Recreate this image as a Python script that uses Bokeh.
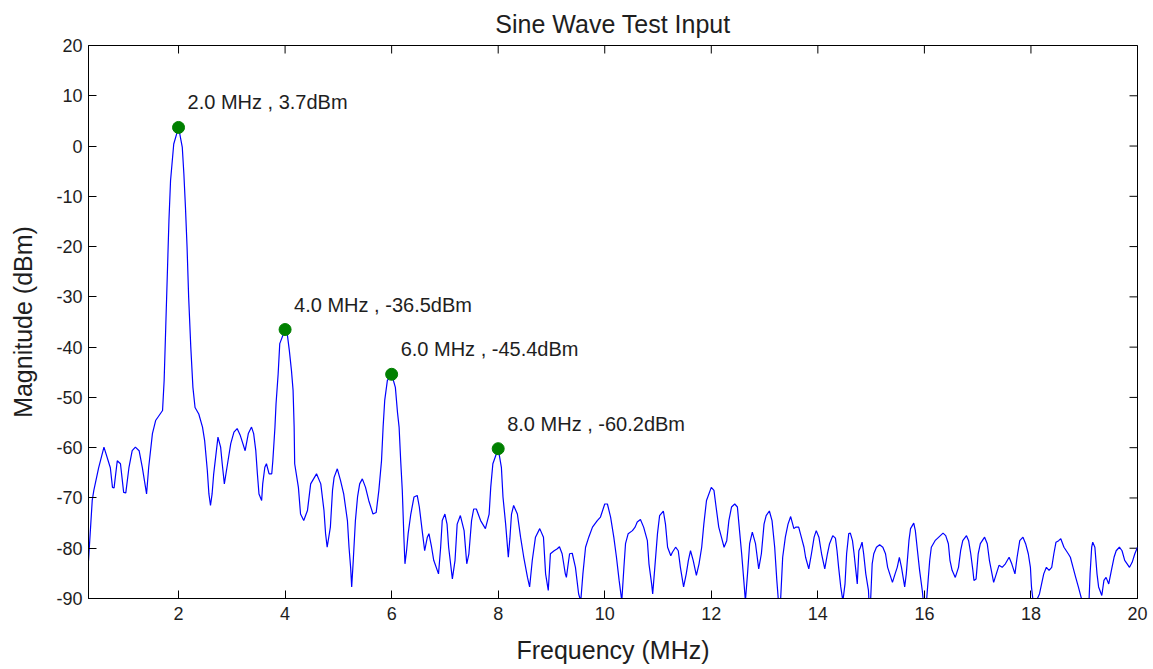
from bokeh.plotting import figure
from bokeh.models import Range1d, FixedTicker, ColumnDataSource
from bokeh.embed import file_html
from bokeh.resources import INLINE
from bokeh.core.properties import value
import math

# Spectrum of the sine-wave test input (frequency in MHz, magnitude in dBm)
freq_mhz = [
    0.31, 0.38, 0.41, 0.50, 0.60, 0.72, 0.76, 0.79, 0.85, 0.91, 0.97, 1.01, 1.07, 1.13, 1.19, 1.26,
    1.32, 1.40, 1.44, 1.51, 1.57, 1.70, 1.73, 1.76, 1.79, 1.82, 1.85, 1.91, 2.00, 2.07, 2.10, 2.13,
    2.16, 2.19, 2.23, 2.27, 2.31, 2.38, 2.45, 2.49, 2.54, 2.57, 2.60, 2.63, 2.66, 2.74, 2.79, 2.82,
    2.86, 2.92, 2.98, 3.04, 3.10, 3.16, 3.25, 3.31, 3.37, 3.41, 3.45, 3.48, 3.51, 3.56, 3.58, 3.62,
    3.65, 3.70, 3.75, 3.77, 3.81, 3.83, 3.87, 3.90, 4.00, 4.04, 4.08, 4.12, 4.15, 4.17, 4.18, 4.25,
    4.29, 4.35, 4.42, 4.48, 4.59, 4.67, 4.73, 4.76, 4.79, 4.85, 4.89, 4.92, 4.98, 5.04, 5.10, 5.17,
    5.20, 5.23, 5.25, 5.28, 5.32, 5.36, 5.40, 5.45, 5.51, 5.57, 5.65, 5.71, 5.76, 5.81, 5.84, 5.87,
    5.92, 6.00, 6.07, 6.11, 6.14, 6.17, 6.20, 6.23, 6.25, 6.28, 6.31, 6.36, 6.42, 6.48, 6.52, 6.58,
    6.62, 6.67, 6.70, 6.75, 6.79, 6.88, 6.92, 6.95, 7.00, 7.04, 7.07, 7.14, 7.19, 7.23, 7.29, 7.36,
    7.41, 7.45, 7.50, 7.54, 7.59, 7.67, 7.76, 7.83, 7.86, 7.90, 8.00, 8.06, 8.09, 8.14, 8.19, 8.22,
    8.25, 8.29, 8.36, 8.42, 8.48, 8.55, 8.59, 8.64, 8.70, 8.78, 8.85, 8.89, 8.94, 8.98, 9.05, 9.11,
    9.15, 9.20, 9.26, 9.28, 9.34, 9.39, 9.45, 9.51, 9.55, 9.59, 9.64, 9.70, 9.77, 9.86, 9.92, 10.00,
    10.05, 10.11, 10.17, 10.22, 10.27, 10.32, 10.36, 10.39, 10.44, 10.52, 10.57, 10.61, 10.67, 10.73,
    10.80, 10.83, 10.88, 10.90, 10.94, 10.99, 11.03, 11.10, 11.14, 11.18, 11.24, 11.27, 11.33, 11.38,
    11.42, 11.48, 11.53, 11.57, 11.61, 11.66, 11.72, 11.77, 11.82, 11.86, 11.91, 12.00, 12.05, 12.09,
    12.14, 12.19, 12.24, 12.29, 12.33, 12.38, 12.44, 12.49, 12.53, 12.57, 12.61, 12.64, 12.68, 12.72,
    12.77, 12.83, 12.89, 12.94, 12.99, 13.03, 13.09, 13.14, 13.19, 13.23, 13.26, 13.30, 13.34, 13.39,
    13.44, 13.49, 13.55, 13.59, 13.64, 13.69, 13.74, 13.77, 13.83, 13.88, 13.93, 13.97, 14.02, 14.07,
    14.13, 14.18, 14.22, 14.28, 14.33, 14.36, 14.39, 14.43, 14.47, 14.51, 14.54, 14.58, 14.61, 14.65,
    14.68, 14.72, 14.74, 14.77, 14.80, 14.83, 14.86, 14.90, 14.95, 14.96, 14.99, 15.02, 15.05, 15.10,
    15.16, 15.22, 15.27, 15.31, 15.40, 15.45, 15.49, 15.53, 15.57, 15.63, 15.66, 15.71, 15.74, 15.80,
    15.83, 15.87, 15.91, 15.96, 15.98, 16.04, 16.07, 16.10, 16.13, 16.20, 16.27, 16.35, 16.40, 16.45,
    16.48, 16.52, 16.58, 16.64, 16.68, 16.72, 16.79, 16.83, 16.87, 16.91, 16.93, 16.97, 17.01, 17.05,
    17.13, 17.18, 17.22, 17.30, 17.35, 17.40, 17.46, 17.52, 17.59, 17.64, 17.70, 17.74, 17.79, 17.85,
    17.90, 17.95, 17.99, 18.01, 18.04, 18.10, 18.16, 18.20, 18.24, 18.29, 18.34, 18.39, 18.43, 18.47,
    18.52, 18.56, 18.62, 18.70, 18.74, 18.79, 18.84, 18.89, 18.96, 19.04, 19.09, 19.11, 19.14, 19.16,
    19.20, 19.24, 19.27, 19.33, 19.37, 19.41, 19.46, 19.51, 19.56, 19.60, 19.66, 19.71, 19.76, 19.85,
    19.90, 19.95, 20.00,
]
mag_dbm = [
    -82.5, -70.5, -68.5, -64.0, -59.9, -64.0, -67.9, -68.0, -62.6, -63.2, -68.9, -69.0, -63.9, -60.6, -59.9, -60.6,
    -63.9, -69.2, -63.9, -57.2, -54.6, -52.6, -46.6, -36.0, -25.4, -14.8, -6.9, 0.4, 3.7, -0.2, -5.5, -12.2,
    -20.1, -30.1, -40.0, -48.0, -52.0, -53.3, -55.9, -58.6, -64.5, -69.2, -71.5, -69.2, -65.2, -57.9, -59.9, -63.2,
    -67.2, -63.2, -59.2, -56.9, -56.2, -57.6, -60.6, -57.2, -55.9, -57.2, -60.6, -65.2, -69.2, -70.5, -67.2, -63.9,
    -63.2, -65.2, -65.2, -62.6, -55.9, -51.3, -45.3, -39.3, -36.5, -37.3, -40.7, -44.7, -48.6, -55.9, -63.2, -67.9,
    -73.2, -74.5, -72.5, -67.2, -65.2, -67.2, -72.5, -77.1, -79.8, -75.8, -68.5, -65.9, -64.2, -66.5, -69.2, -74.5,
    -79.8, -83.8, -87.7, -82.4, -74.5, -69.8, -67.2, -66.2, -67.9, -70.5, -73.2, -72.9, -68.5, -62.6, -55.9, -50.6,
    -46.6, -45.4, -48.0, -53.0, -55.9, -62.6, -68.5, -77.8, -83.1, -80.5, -77.1, -73.2, -69.8, -69.5, -71.8, -77.1,
    -80.5, -77.8, -77.1, -79.8, -82.4, -85.1, -79.8, -74.5, -73.2, -75.2, -79.8, -86.1, -82.4, -75.2, -73.5, -76.5,
    -83.1, -81.1, -74.5, -72.2, -72.2, -74.5, -76.1, -73.2, -67.9, -63.2, -60.2, -63.9, -69.8, -75.2, -81.8, -78.0,
    -73.2, -71.5, -73.2, -77.8, -81.8, -85.8, -87.7, -82.4, -77.8, -76.1, -77.8, -85.1, -88.4, -81.1, -80.5, -80.1,
    -79.7, -81.1, -85.1, -85.8, -81.1, -81.0, -83.8, -89.1, -90.5, -85.1, -79.8, -77.8, -75.8, -74.5, -73.8, -71.2,
    -71.2, -73.8, -77.8, -81.8, -86.4, -90.5, -83.8, -79.1, -77.1, -76.5, -75.8, -74.8, -74.3, -75.8,
    -78.5, -83.1, -87.1, -89.1, -83.8, -77.1, -73.5, -72.6, -75.2, -79.8, -81.5, -80.8, -79.8, -80.5,
    -83.8, -87.7, -85.1, -82.4, -80.5, -82.4, -85.4, -83.1, -79.8, -75.2, -70.5, -67.9, -68.5, -71.8,
    -75.8, -77.8, -79.8, -78.5, -74.5, -71.8, -71.2, -71.8, -76.5, -81.1, -86.4, -90.5, -85.1, -79.1,
    -76.8, -79.1, -84.1, -81.1, -75.2, -73.5, -72.6, -74.5, -79.8, -86.4, -90.5, -90.5, -81.8, -77.8,
    -75.2, -73.7, -76.1, -75.8, -75.8, -77.8, -79.8, -81.8, -84.1, -81.1, -77.8, -76.5, -77.8, -81.1,
    -84.1, -81.1, -79.1, -77.5, -78.0, -80.5, -83.8, -87.7, -90.5, -87.1, -81.1, -77.1, -77.0, -78.5,
    -81.1, -85.1, -87.1, -80.5, -79.8, -78.8, -81.1, -85.1, -88.4, -90.5, -90.5, -83.1, -81.1, -79.8,
    -79.3, -79.8, -81.1, -83.8, -86.8, -85.1, -83.8, -81.8, -83.8, -87.7, -85.1, -78.5, -76.1, -75.0,
    -76.5, -80.5, -84.4, -88.4, -90.5, -90.5, -86.4, -82.4, -79.8, -78.5, -77.8, -77.0, -77.5, -79.1,
    -82.4, -84.4, -85.8, -83.8, -80.5, -78.5, -77.5, -78.5, -81.1, -84.4, -86.4, -86.1, -81.1, -79.1,
    -77.8, -79.1, -82.4, -86.8, -85.1, -83.4, -83.8, -83.1, -81.8, -83.1, -85.1, -81.8, -78.5, -77.8,
    -79.1, -81.1, -83.8, -87.7, -90.5, -90.5, -89.1, -87.1, -85.1, -83.8, -84.4, -83.8, -81.1, -78.8,
    -78.5, -78.1, -79.8, -81.1, -81.8, -83.8, -85.8, -87.7, -90.5, -90.5, -90.5, -85.1, -79.8, -78.8,
    -79.8, -85.1, -87.7, -89.4, -86.4, -85.8, -87.1, -84.4, -81.8, -80.5, -79.8, -80.5, -82.4, -83.8,
    -82.8, -81.1, -79.8,
]

# Marked harmonics
peak_freq_mhz = [2.0, 4.0, 6.0, 8.0]
peak_mag_dbm = [3.7, -36.5, -45.4, -60.2]

x_ticks = [2, 4, 6, 8, 10, 12, 14, 16, 18, 20]
y_ticks = [-90, -80, -70, -60, -50, -40, -30, -20, -10, 0, 10, 20]

FONT = "Liberation Sans"
INK = "#1e1e1e"

p = figure(
    width=1153, height=669,
    output_backend="svg", toolbar_location=None,
    x_range=Range1d(0.31, 20), y_range=Range1d(-90, 20),
    min_border_left=88, min_border_right=16, min_border_top=45, min_border_bottom=71,
    x_axis_label="Frequency (MHz)", y_axis_label="Magnitude (dBm)",
)
p.background_fill_color = "white"
p.border_fill_color = "white"
p.outline_line_color = "black"
p.outline_line_width = 1
p.xgrid.visible = False
p.ygrid.visible = False

p.title.text = "Sine Wave Test Input"
p.title.align = "center"
p.title.text_font = FONT
p.title.text_font_size = "25px"
p.title.text_font_style = "normal"
p.title.text_color = INK
p.title.standoff = 15

for ax, ticks in ((p.xaxis[0], x_ticks), (p.yaxis[0], y_ticks)):
    ax.ticker = FixedTicker(ticks=ticks)
    ax.major_label_overrides = {t: str(t) for t in ticks}
    ax.major_tick_in = 8
    ax.major_tick_out = 0
    ax.minor_tick_line_color = None
    ax.axis_line_color = "black"
    ax.major_tick_line_color = "black"
    ax.major_label_text_font = FONT
    ax.major_label_text_font_size = "18px"
    ax.major_label_text_color = INK
    ax.axis_label_text_font = FONT
    ax.axis_label_text_font_size = "25px"
    ax.axis_label_text_font_style = "normal"
    ax.axis_label_text_color = INK

p.xaxis[0].major_label_standoff = 8
p.xaxis[0].axis_label_standoff = 13
p.yaxis[0].major_label_standoff = 6
p.yaxis[0].axis_label_standoff = 16

# Inward box ticks along the top and right edges (clipped to the frame)
p.scatter(x=x_ticks, y=[p.y_range.end] * len(x_ticks), marker="dash", angle=math.pi / 2,
          size=16, line_color="black", line_width=1)
p.scatter(x=[p.x_range.end] * len(y_ticks), y=y_ticks, marker="dash",
          size=16, line_color="black", line_width=1)

p.line(freq_mhz, mag_dbm, line_color="#0000ff", line_width=1.2)

peaks = ColumnDataSource(dict(
    f=peak_freq_mhz,
    m=peak_mag_dbm,
    label=[f"{f:.1f} MHz , {m:.1f}dBm" for f, m in zip(peak_freq_mhz, peak_mag_dbm)],
))
p.scatter("f", "m", source=peaks, size=12, fill_color="#008000", line_color="#008000")
p.text("f", "m", text="label", source=peaks, x_offset=9, y_offset=-25,
       text_baseline="middle", text_align="left",
       text_font=value(FONT), text_font_size="20px", text_color=INK)

open("out.html", "w").write(file_html(p, INLINE))
